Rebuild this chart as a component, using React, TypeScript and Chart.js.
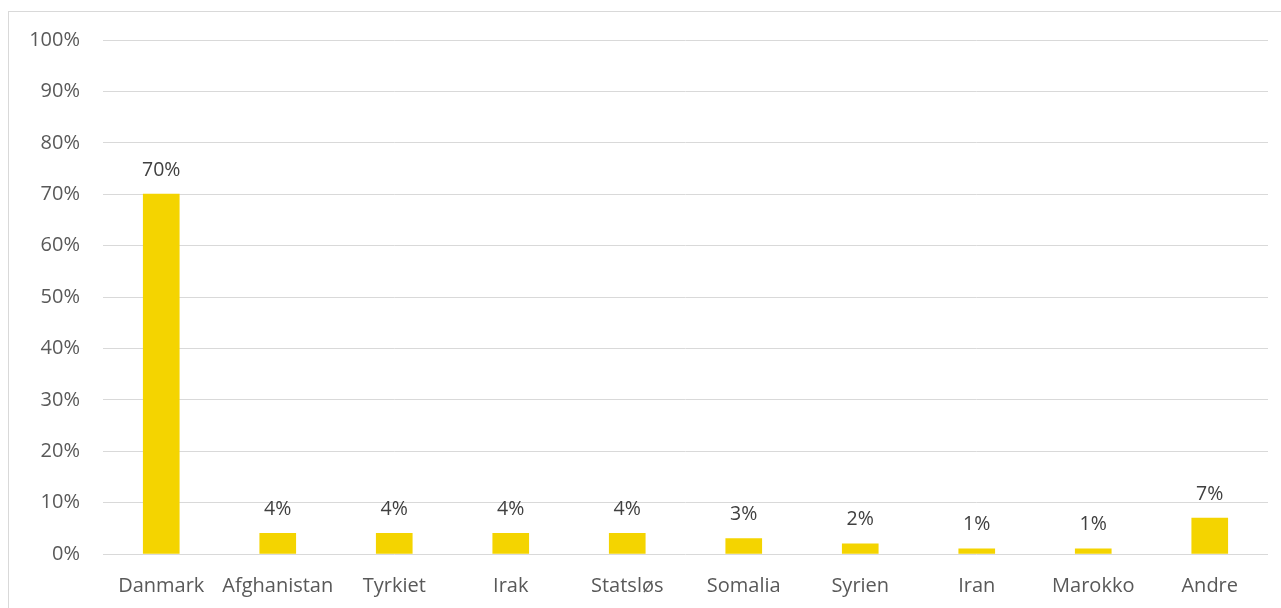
import React, { useEffect, useRef } from "react";
import { Chart, registerables } from "chart.js";

Chart.register(...registerables);

const categories = ["Danmark", "Afghanistan", "Tyrkiet", "Irak", "Statsløs", "Somalia", "Syrien", "Iran", "Marokko", "Andre"];
const values = [70, 4, 4, 4, 4, 3, 2, 1, 1, 7];
const yTicks = [0, 10, 20, 30, 40, 50, 60, 70, 80, 90, 100];

const FONT = "'Open Sans', sans-serif";
const TEXT = "#595959";
const LABEL_TEXT = "#404040";

const labelPlugin = {
  id: "barLabels",
  afterDatasetsDraw(chart: any) {
    const ctx = chart.ctx;
    const meta = chart.getDatasetMeta(0);
    ctx.save();
    ctx.font = `19.5px ${FONT}`;
    ctx.fillStyle = LABEL_TEXT;
    ctx.textAlign = "center";
    ctx.textBaseline = "middle";
    meta.data.forEach((bar: any, i: number) => {
      ctx.fillText(`${values[i]}%`, bar.x, bar.y - 24);
    });
    ctx.restore();
  },
};

export default function App() {
  const ref = useRef<HTMLCanvasElement>(null);
  useEffect(() => {
    if (!ref.current) return;
    const chart = new Chart(ref.current, {
      type: "bar",
      data: {
        labels: categories,
        datasets: [
          {
            data: values,
            backgroundColor: "#F4D400",
            barThickness: 36,
          },
        ],
      },
      options: {
        animation: false,
        responsive: false,
        maintainAspectRatio: false,
        layout: { padding: { top: 28, right: 13, bottom: 0, left: 0 } },
        plugins: { legend: { display: false }, tooltip: { enabled: false } },
        scales: {
          x: {
            grid: { display: false, drawTicks: false },
            border: { display: false },
            ticks: { color: TEXT, font: { family: FONT, size: 20 }, padding: 20, maxRotation: 0, autoSkip: false },
            afterFit: (s: any) => { s.height = 54; s.paddingLeft = 0; s.paddingRight = 0; },
          },
          y: {
            min: 0,
            max: 100,
            afterBuildTicks: (s: any) => { s.ticks = yTicks.map((v) => ({ value: v })); },
            grid: { color: "#d9d9d9", lineWidth: 1, drawTicks: false },
            border: { display: false },
            ticks: {
              color: TEXT,
              font: { family: FONT, size: 20 },
              padding: 23,
              callback: (v: any) => `${v}%`,
            },
            afterFit: (s: any) => { s.width = 94; s.paddingTop = 0; s.paddingBottom = 0; },
          },
        },
      },
      plugins: [labelPlugin],
    });
    return () => chart.destroy();
  }, []);
  return (
    <div
      style={{
        position: "fixed",
        left: 8,
        top: 11,
        width: 1273,
        height: 597,
        boxSizing: "border-box",
        borderLeft: "1px solid #d9d9d9",
        borderTop: "1px solid #d9d9d9",
        background: "#fff",
      }}
    >
      <canvas ref={ref} width={1272} height={596} style={{ display: "block" }} />
    </div>
  );
}
